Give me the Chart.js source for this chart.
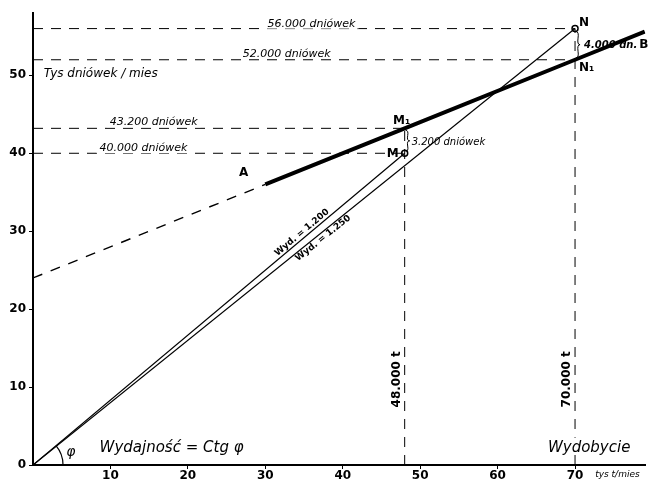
<!DOCTYPE html>
<html>
<head>
<meta charset="utf-8">
<script src="https://cdn.jsdelivr.net/npm/chart.js@4.4.0/dist/chart.umd.min.js"></script>
<style>
  html, body { margin: 0; padding: 0; background: #fff; }
  #wrap { width: 651px; height: 479px; }
</style>
</head>
<body>
<div id="wrap"><canvas id="myChart"></canvas></div>
<script>
// wydobycie (tys t/mies) w punktach M i N
var wydobycie = [48, 70];
// dniowki przed zmiana (M, N) i po zmianie (M1, N1), tys/mies
var dniowkiMN = [40, 56];
var dniowkiM1N1 = [43.2, 52];
// linia A-B (gruba) i jej przedluzenie do osi
var liniaABx = [30, 48, 70, 79];
var liniaABy = [36, 43.2, 52, 55.6];
var przedluzenieX = [0, 30];
var przedluzenieY = [24, 36];
var xTicks = [10, 20, 30, 40, 50, 60, 70];
var yTicks = [0, 10, 20, 30, 40, 50];

var FONT = "'DejaVu Sans', sans-serif";

function pts(xs, ys) {
  var out = [];
  for (var i = 0; i < xs.length; i++) out.push({x: xs[i], y: ys[i]});
  return out;
}

var dashed = [10, 8];
var datasets = [];

// poziome linie przerywane
for (var i = 0; i < 2; i++) {
  datasets.push({data: pts([0, wydobycie[i]], [dniowkiMN[i], dniowkiMN[i]]), borderDash: dashed, borderWidth: 1});
  datasets.push({data: pts([0, wydobycie[i]], [dniowkiM1N1[i], dniowkiM1N1[i]]), borderDash: dashed, borderWidth: 1});
  // pionowe linie przerywane
  datasets.push({data: pts([wydobycie[i], wydobycie[i]], [0, Math.max(dniowkiMN[i], dniowkiM1N1[i])]), borderDash: [10, 8], borderWidth: 1});
}
// linie z poczatku ukladu (wydajnosc)
for (var i = 0; i < 2; i++) {
  datasets.push({data: pts([0, wydobycie[i]], [0, dniowkiMN[i]]), borderWidth: 1.2});
}
datasets.push({data: pts(przedluzenieX, przedluzenieY), borderDash: [10, 9], borderWidth: 1.4});
datasets.push({data: pts(liniaABx, liniaABy), borderWidth: 4});
// punkty M i N
datasets.push({data: pts(wydobycie, dniowkiMN), showLine: false, pointRadius: 3, pointBorderWidth: 1.5,
  pointBackgroundColor: '#fff', pointBorderColor: '#000'});

datasets.forEach(function (d) {
  d.borderColor = '#000';
  if (d.showLine === undefined) { d.showLine = true; d.pointRadius = 0; }
});

var notes = {
  id: 'notes',
  afterDatasetsDraw: function (chart) {
    var ctx = chart.ctx, xs = chart.scales.x, ys = chart.scales.y;
    function px(v) { return xs.getPixelForValue(v); }
    function py(v) { return ys.getPixelForValue(v); }
    function txt(s, x, y, size, o) {
      o = o || {};
      ctx.save();
      ctx.font = (o.style || 'italic') + ' ' + size + 'px ' + FONT;
      ctx.textAlign = o.align || 'left';
      ctx.textBaseline = o.base || 'alphabetic';
      ctx.translate(x, y);
      if (o.rot) ctx.rotate(o.rot);
      if (o.bg) {
        var w = ctx.measureText(s).width;
        var x0 = ctx.textAlign === 'center' ? -w / 2 : (ctx.textAlign === 'right' ? -w : 0);
        ctx.fillStyle = '#fff';
        ctx.fillRect(x0 - 3, -size + 1, w + 6, size + 1);
      }
      ctx.fillStyle = '#000';
      ctx.fillText(s, 0, 0);
      ctx.restore();
    }
    function brace(x, y1, y2) {
      var m = (y1 + y2) / 2;
      ctx.save();
      ctx.strokeStyle = '#000';
      ctx.lineWidth = 1;
      ctx.beginPath();
      ctx.moveTo(x, y1);
      ctx.quadraticCurveTo(x + 3, y1, x + 2, (y1 + m) / 2);
      ctx.quadraticCurveTo(x + 1, m, x + 4, m);
      ctx.quadraticCurveTo(x + 1, m, x + 2, (m + y2) / 2);
      ctx.quadraticCurveTo(x + 3, y2, x, y2);
      ctx.stroke();
      ctx.restore();
    }

    txt('56.000 dniówek', px(30.3), py(56) - 2, 11, {bg: true});
    txt('52.000 dniówek', px(27.1), py(52) - 3, 11, {bg: true});
    txt('43.200 dniówek', px(9.9), py(43.2) - 3, 11, {bg: true});
    txt('40.000 dniówek', px(8.6), py(40) - 2, 11, {bg: true});
    txt('Tys dniówek / mies', px(1.4), py(49.8), 12);

    txt('M₁', px(48) - 3, py(43.2) - 4, 12, {style: 'bold', align: 'center'});
    txt('M', px(48) - 6, py(40) + 4, 12, {style: 'bold', align: 'right'});
    txt('3.200 dniówek', px(48) + 7, (py(43.2) + py(40)) / 2 + 4, 10);
    brace(px(48) + 1, py(43.2) + 2, py(40) - 2);

    txt('N', px(70) + 4, py(56) - 3, 12, {style: 'bold'});
    txt('N₁', px(70) + 4, py(52) + 11, 12, {style: 'bold'});
    txt('4.000 dn.', px(70) + 9, (py(56) + py(52)) / 2 + 4, 10, {style: 'bold italic'});
    brace(px(70) + 1, py(56) + 3, py(52) - 2);
    txt('B', px(78.3), py(55.6) + 16, 12, {style: 'bold'});
    txt('A', px(27.2), py(36) - 8, 12, {style: 'bold', align: 'center'});

    var a1 = -Math.atan2(py(0) - py(dniowkiMN[0]), px(wydobycie[0]) - px(0));
    var a2 = -Math.atan2(py(0) - py(dniowkiMN[1]), px(wydobycie[1]) - px(0));
    txt('Wyd. = 1.200', px(35.1), py(35.1 / 1.2) - 1, 9, {style: 'bold', align: 'center', base: 'bottom', rot: a1});
    txt('Wyd. = 1.250', px(37.1), py(37.1 * 0.8) + 1, 9, {style: 'bold', align: 'center', base: 'top', rot: a2});

    txt('48.000 t', px(48) - 5, py(11), 12, {style: 'bold', align: 'center', rot: -Math.PI / 2});
    txt('70.000 t', px(70) - 5, py(11), 12, {style: 'bold', align: 'center', rot: -Math.PI / 2});

    txt('Wydajność = Ctg φ', px(8.6), py(1.7), 15);
    txt('Wydobycie', px(66.5), py(1.7), 15, {bg: true});
    txt('tys t/mies', px(72.6), py(0) + 12, 9);
    txt('φ', px(4.3), py(1.2), 14);

    ctx.save();
    ctx.strokeStyle = '#000';
    ctx.lineWidth = 1.2;
    ctx.beginPath();
    ctx.arc(px(0), py(0), 30, a1, 0);
    ctx.stroke();
    ctx.restore();
  }
};

new Chart(document.getElementById('myChart'), {
  type: 'scatter',
  data: { datasets: datasets },
  options: {
    responsive: true,
    maintainAspectRatio: false,
    animation: false,
    layout: { padding: { top: 13, right: 0, left: 0, bottom: 0 } },
    plugins: { legend: { display: false }, tooltip: { enabled: false } },
    scales: {
      x: {
        type: 'linear', min: 0, max: 79.1,
        afterFit: function (s) { s.height = 14; },
        afterBuildTicks: function (s) { s.ticks = xTicks.map(function (v) { return {value: v}; }); },
        ticks: { color: '#000', padding: 0, maxRotation: 0, font: { family: FONT, size: 12, weight: 'bold' } },
        grid: { display: true, drawOnChartArea: false, tickLength: 4, color: '#000' },
        border: { display: true, color: '#000', width: 2 }
      },
      y: {
        type: 'linear', min: 0, max: 58,
        afterFit: function (s) { s.width = 33; },
        afterBuildTicks: function (s) { s.ticks = yTicks.map(function (v) { return {value: v}; }); },
        ticks: { color: '#000', padding: 3, font: { family: FONT, size: 12, weight: 'bold' } },
        grid: { display: true, drawOnChartArea: false, tickLength: 4, color: '#000' },
        border: { display: true, color: '#000', width: 2 }
      }
    }
  },
  plugins: [notes]
});
</script>
</body>
</html>
